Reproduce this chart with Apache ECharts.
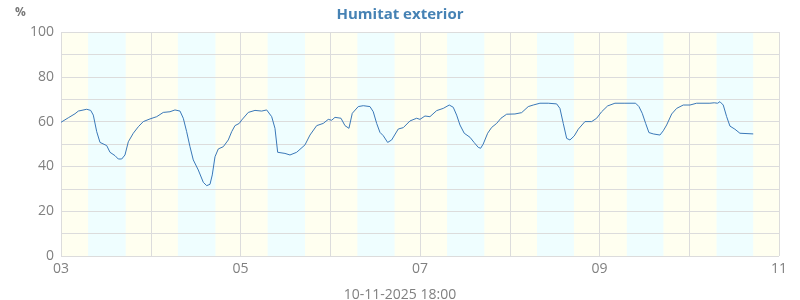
<!DOCTYPE html>
<html><head><meta charset="utf-8">
<script src="https://cdn.jsdelivr.net/npm/echarts@6/dist/echarts.min.js"></script>
<style>html,body{margin:0;padding:0;background:#fff}#c{width:800px;height:300px}</style>
</head><body><div id="c"></div>
<script>
// hours since 2025-11-03 00:00
const timeHours = [0.0,1.95,3.74,4.63,6.87,7.94,8.64,9.55,10.43,12.22,13.1,14.44,15.32,16.23,17.11,18.0,19.33,20.67,22.0,23.8,
25.59,27.35,29.14,30.48,31.82,32.7,33.6,34.49,35.37,36.71,38.05,38.96,39.84,40.45,41.18,42.06,43.4,44.73,45.64,46.52,47.67,
48.32,50.08,51.87,53.66,55.0,56.34,57.22,57.94,59.89,61.23,63.02,65.24,66.58,68.37,70.13,
71.47,72.38,73.26,74.87,75.94,77.0,77.89,79.49,80.83,82.62,83.5,84.41,85.29,86.18,87.35,88.42,90.19,91.53,93.32,95.11,
95.99,97.33,98.66,100.45,102.22,103.82,104.89,105.8,106.68,107.83,109.36,110.51,111.58,112.22,112.91,114.09,115.16,116.5,117.65,119.17,
121.39,123.18,124.95,126.28,128.07,130.29,132.54,133.42,134.31,135.22,136.1,137.25,138.32,140.11,141.9,143.24,
144.57,146.18,148.13,150.8,153.66,154.55,155.43,156.34,157.22,158.37,160.16,161.05,161.96,163.3,164.63,166.4,
168.19,169.98,173.53,174.68,175.59,176.2,177.09,178.0,178.88,180.21,181.55,185.11];
const humidity = [59.7,61.7,63.5,64.7,65.5,65.0,62.9,55.5,50.7,49.3,46.3,44.8,43.3,43.3,45.1,51.0,54.8,57.7,60.0,61.2,
62.2,64.1,64.4,65.2,64.7,61.5,55.5,48.8,42.9,38.4,32.9,31.4,32.0,36.2,44.3,47.8,48.8,51.8,55.5,58.2,59.2,
60.7,64.1,65.0,64.7,65.2,62.2,57.0,46.3,45.8,45.1,46.3,49.6,54.0,58.2,59.2,
61.0,60.6,61.9,61.5,58.2,57.0,63.7,66.7,67.1,66.7,64.4,59.2,55.2,53.7,50.7,51.8,56.7,57.3,60.3,61.5,
61.0,62.5,62.2,64.9,65.9,67.4,66.4,62.9,58.5,54.8,53.0,50.6,48.5,48.1,50.0,54.8,57.4,59.2,61.5,63.3,
63.4,64.0,66.7,67.4,68.2,68.2,67.9,65.9,59.2,52.5,51.8,53.6,56.6,60.0,60.0,61.5,
64.4,67.0,68.2,68.2,68.2,66.7,63.7,59.2,55.1,54.5,54.0,55.9,58.5,63.4,65.9,67.4,
67.4,68.2,68.2,68.4,68.2,68.9,67.4,62.2,58.0,56.6,54.8,54.5];
const dayTicks = ['03','04','05','06','07','08','09','10','11'];
const yTicks = ['0','20','40','60','80','100'];
// daylight bands (hours of day)
const sunrise = [7.25,7.25,7.25,7.25,7.25,7.3,7.3,7.3];
const sunset  = [17.3,17.3,17.25,17.2,17.2,17.15,17.1,17.1];

const chart = echarts.init(document.getElementById('c'));
const font = 'Open Sans';
const bands = [[{xAxis:0,itemStyle:{color:'#fffff0'}},{xAxis:192}]].concat(
  sunrise.map((s,i)=>[{xAxis: i*24+s,itemStyle:{color:'#effeff'}},{xAxis: i*24+sunset[i]}]));
chart.setOption({
  animation:false,
  title:[
    {text:'Humitat exterior', left:'center', top:2, textStyle:{fontFamily:font,fontWeight:'bold',fontSize:15,color:'#4682b4'}},
    {text:'10-11-2025 18:00', left:'center', top:283, textStyle:{fontFamily:font,fontWeight:'normal',fontSize:14,color:'#808080'}},
    {text:'%', left:10, top:2, textStyle:{fontFamily:font,fontWeight:'bold',fontSize:12,color:'#777'}}
  ],
  grid:{left:61,right:21,top:32,bottom:44},
  xAxis:{type:'value',min:0,max:192,interval:24,
    axisLine:{show:false},axisTick:{show:false},
    axisLabel:{fontFamily:font,fontSize:14,color:'#808080',margin:6,
      formatter:(v)=>{const i=Math.round(v/24);return i%2===0?dayTicks[i]:'';}},
    splitLine:{show:true,lineStyle:{color:'#dcdcdc',width:1}}},
  yAxis:{type:'value',min:0,max:100,interval:10,
    axisLine:{show:false},axisTick:{show:false},
    axisLabel:{fontFamily:font,fontSize:14,color:'#808080',margin:7,
      formatter:(v)=>{return v%20===0?yTicks[v/20]:'';}},
    splitLine:{show:true,lineStyle:{color:'#dcdcdc',width:1}}},
  series:[{type:'line',data:timeHours.map((t,i)=>[t,humidity[i]]),showSymbol:false,
    lineStyle:{color:'#3a78b8',width:1},itemStyle:{color:'#3a78b8'},z:3,
    markArea:{silent:true,z:-1,data:bands}}]
});
</script></body></html>
